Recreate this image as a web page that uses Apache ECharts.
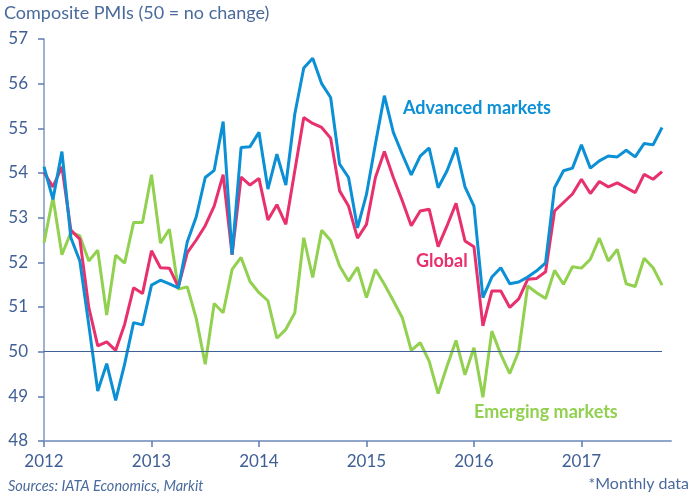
<!DOCTYPE html>
<html>
<head>
<meta charset="utf-8">
<script src="https://cdn.jsdelivr.net/npm/echarts@6/dist/echarts.min.js"></script>
<style>
  html, body { margin: 0; padding: 0; background: #fff; }
  #chart { width: 690px; height: 498px; }
</style>
</head>
<body>
<div id="chart"></div>
<script>
// months since Jan 2012, monthly data Jan 2012 .. Oct 2017
var startYear = 2012;
var yearTicks = [2012, 2013, 2014, 2015, 2016, 2017];

var advanced = [
  54.14, 53.41, 54.48, 52.55, 52.03, 50.60, 49.12, 49.73, 48.91, 49.72, 50.65, 50.60,
  51.49, 51.60, 51.52, 51.43, 52.46, 53.02, 53.90, 54.06, 55.15, 52.17, 54.57, 54.59,
  54.91, 53.64, 54.42, 53.73, 55.32, 56.35, 56.57, 56.00, 55.69, 54.20, 53.90, 52.77,
  53.52, 54.65, 55.73, 54.91, 54.42, 53.96, 54.38, 54.56, 53.67, 54.05, 54.57, 53.69,
  53.26, 51.21, 51.67, 51.88, 51.52, 51.56, 51.67, 51.81, 51.99, 53.67, 54.05, 54.11,
  54.63, 54.11, 54.27, 54.38, 54.36, 54.51, 54.36, 54.66, 54.63, 55.02
];
var global = [
  54.01, 53.69, 54.14, 52.72, 52.52, 50.99, 50.13, 50.22, 50.03, 50.61, 51.43, 51.30,
  52.26, 51.88, 51.87, 51.45, 52.22, 52.50, 52.82, 53.26, 53.96, 52.17, 53.91, 53.73,
  53.88, 52.95, 53.29, 52.85, 54.05, 55.24, 55.11, 55.02, 54.78, 53.60, 53.26, 52.54,
  52.85, 53.90, 54.48, 53.90, 53.38, 52.82, 53.15, 53.19, 52.35, 52.82, 53.32, 52.48,
  52.35, 50.58, 51.36, 51.36, 50.99, 51.18, 51.62, 51.64, 51.79, 53.15, 53.34, 53.53,
  53.86, 53.54, 53.81, 53.69, 53.78, 53.67, 53.56, 53.97, 53.86, 54.03
];
var emerging = [
  52.44, 53.45, 52.17, 52.67, 52.59, 52.03, 52.27, 50.82, 52.16, 51.98, 52.89, 52.89,
  53.96, 52.43, 52.74, 51.40, 51.45, 50.74, 49.72, 51.08, 50.87, 51.84, 52.11, 51.57,
  51.32, 51.14, 50.30, 50.50, 50.87, 52.55, 51.66, 52.72, 52.49, 51.92, 51.58, 51.89,
  51.21, 51.84, 51.51, 51.14, 50.76, 50.03, 50.20, 49.79, 49.06, 49.68, 50.25, 49.48,
  50.09, 48.98, 50.46, 49.94, 49.51, 50.01, 51.47, 51.32, 51.19, 51.82, 51.51, 51.90,
  51.87, 52.07, 52.54, 52.03, 52.29, 51.52, 51.46, 52.09, 51.88, 51.49
];

function pairs(arr) {
  return arr.map(function (v, i) { return [i, v]; });
}

var axisBlue = '#5b7bb2';
var textBlue = '#3f5f95';
var font = 'Lato, "Open Sans", sans-serif';

var chart = echarts.init(document.getElementById('chart'), null, { renderer: 'canvas' });
var option = {
  animation: false,
  backgroundColor: '#fff',
  grid: { left: 44, right: 19, top: 39, bottom: 57 },
  xAxis: {
    type: 'value',
    min: 0,
    max: 70,
    interval: 12,
    axisLine: { show: true, onZero: false, lineStyle: { color: '#8fa5cc', width: 2 } },
    axisTick: { show: true, length: 6, lineStyle: { color: axisBlue, width: 1.5 } },
    splitLine: { show: false },
    axisLabel: {
      color: textBlue,
      fontSize: 17,
      fontFamily: font,
      margin: 12,
      showMaxLabel: false,
      formatter: function (v) { return String(startYear + v / 12); }
    }
  },
  yAxis: {
    type: 'value',
    min: 48,
    max: 57,
    interval: 1,
    axisLine: { show: true, lineStyle: { color: '#7f97c2', width: 1.5 } },
    axisTick: { show: true, inside: false, length: 6, lineStyle: { color: axisBlue, width: 1.5 } },
    splitLine: { show: false },
    axisLabel: { color: textBlue, fontSize: 17, fontFamily: font, margin: 16 }
  },
  series: [
    {
      name: 'Emerging markets',
      type: 'line',
      data: pairs(emerging),
      symbol: 'none',
      lineStyle: { color: '#92d050', width: 3 },
      z: 2,
      markLine: {
        silent: true,
        symbol: 'none',
        label: { show: false },
        lineStyle: { color: '#3f619a', width: 1.2, type: 'solid' },
        data: [[{ coord: [0, 50] }, { coord: [69, 50] }]]
      }
    },
    {
      name: 'Global',
      type: 'line',
      data: pairs(global),
      symbol: 'none',
      lineStyle: { color: '#e8306c', width: 3 },
      z: 3
    },
    {
      name: 'Advanced markets',
      type: 'line',
      data: pairs(advanced),
      symbol: 'none',
      lineStyle: { color: '#0b8fd5', width: 3 },
      z: 4
    }
  ],
  graphic: [
    { type: 'text', left: 4, top: 4, style: { text: 'Composite PMIs (50 = no change)', fill: '#4a6a9c', font: '18px ' + font } },
    { type: 'text', left: 403, top: 99, style: { text: 'Advanced markets', fill: '#0b8fd5', font: 'bold 18px ' + font } },
    { type: 'text', left: 416, top: 252, style: { text: 'Global', fill: '#e8306c', font: 'bold 18px ' + font } },
    { type: 'text', left: 474, top: 403, style: { text: 'Emerging markets', fill: '#92d050', font: 'bold 18px ' + font } },
    { type: 'text', left: 8, top: 479, style: { text: 'Sources: IATA Economics, Markit', fill: '#4a6a9c', font: 'italic 14.5px ' + font } },
    { type: 'text', right: 1, top: 476, style: { text: '*Monthly data', fill: '#4a6a9c', font: '16px ' + font } }
  ]
};
chart.setOption(option);
</script>
</body>
</html>
